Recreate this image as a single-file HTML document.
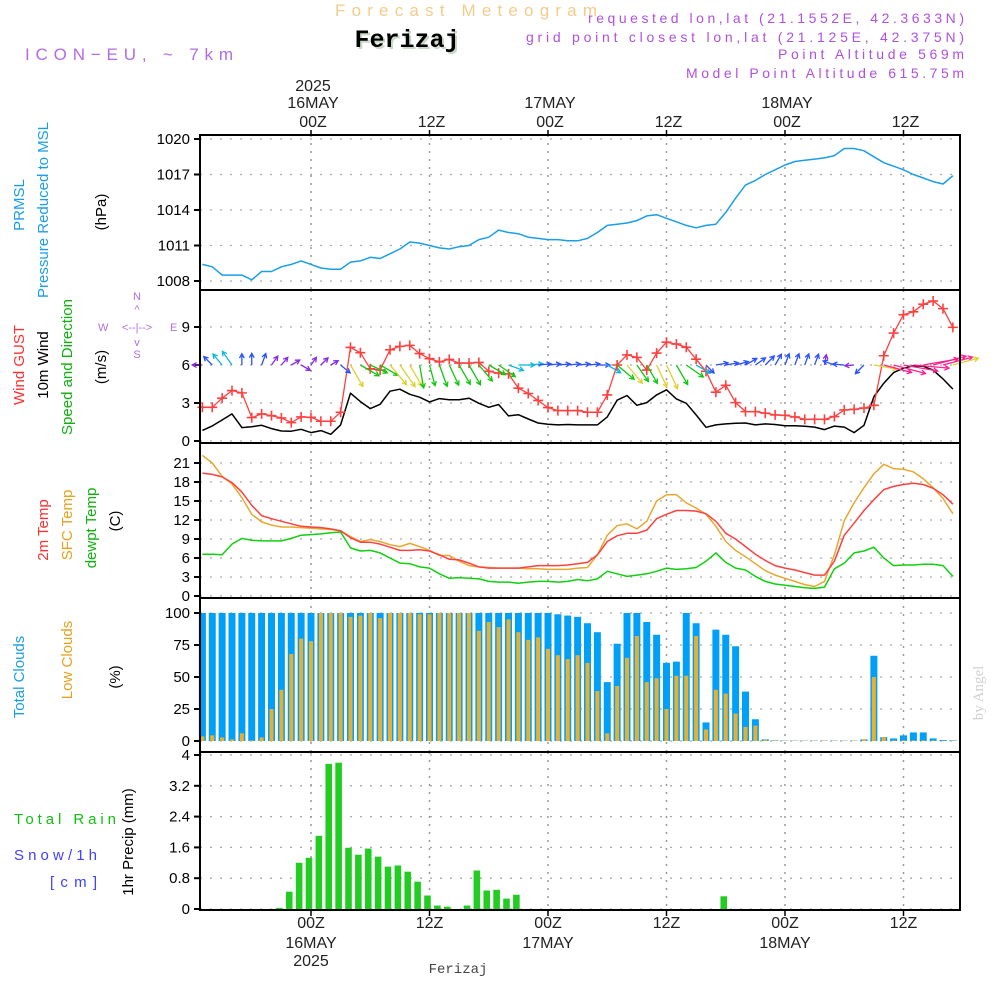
<!DOCTYPE html>
<html><head><meta charset="utf-8"><title>Forecast Meteogram Ferizaj</title>
<style>
html,body{margin:0;padding:0;background:#fff;}
svg{display:block;font-family:"Liberation Sans",sans-serif;}
</style></head>
<body>
<svg id="chart" width="1000" height="1000" viewBox="0 0 1000 1000">
  <text x="466" y="16" text-anchor="middle" font-size="17" fill="#f3cc8c" textLength="262">Forecast Meteogram</text>
  <text x="409" y="49" text-anchor="middle" font-size="25" font-weight="bold" font-family="Liberation Mono, monospace" fill="#c9d8c9">Ferizaj</text>
  <text x="407" y="47" text-anchor="middle" font-size="25" font-weight="bold" font-family="Liberation Mono, monospace" fill="#000">Ferizaj</text>
  <text x="25" y="60" font-size="17" fill="#b36be8" textLength="208">ICON−EU, ~ 7km</text>
  <text x="964" y="23" text-anchor="end" font-size="14" fill="#b050e0" textLength="376">requested lon,lat (21.1552E, 42.3633N)</text>
  <text x="964" y="42" text-anchor="end" font-size="14" fill="#b050e0" textLength="438">grid point closest lon,lat (21.125E, 42.375N)</text>
  <text x="964" y="59" text-anchor="end" font-size="14" fill="#b050e0" textLength="186">Point Altitude 569m</text>
  <text x="964" y="78" text-anchor="end" font-size="14" fill="#b050e0" textLength="278">Model Point Altitude 615.75m</text>

  <text transform="translate(24,205) rotate(-90)" text-anchor="middle" font-size="15" fill="#1a9ee8">PRMSL</text>
  <text transform="translate(48,210) rotate(-90)" text-anchor="middle" font-size="15" fill="#1a9ee8">Pressure Reduced to MSL</text>
  <text transform="translate(106,212) rotate(-90)" text-anchor="middle" font-size="15" fill="#000">(hPa)</text>
  <text transform="translate(24,365) rotate(-90)" text-anchor="middle" font-size="15" fill="#ff3030">Wind GUST</text>
  <text transform="translate(48,365) rotate(-90)" text-anchor="middle" font-size="15" fill="#000">10m Wind</text>
  <text transform="translate(72,367) rotate(-90)" text-anchor="middle" font-size="15" fill="#10b010">Speed and Direction</text>
  <text transform="translate(106,367) rotate(-90)" text-anchor="middle" font-size="15" fill="#000">(m/s)</text>
  <g fill="#b070e0" font-size="11">
    <text x="137" y="300" text-anchor="middle">N</text>
    <text x="137" y="313" text-anchor="middle">^</text>
    <text x="98" y="331">W</text>
    <text x="137" y="331" text-anchor="middle">&lt;--|--&gt;</text>
    <text x="170" y="331">E</text>
    <text x="137" y="346" text-anchor="middle">v</text>
    <text x="137" y="358" text-anchor="middle">S</text>
  </g>
  <text transform="translate(48,530) rotate(-90)" text-anchor="middle" font-size="15" fill="#ff3030">2m Temp</text>
  <text transform="translate(72,525) rotate(-90)" text-anchor="middle" font-size="15" fill="#e8a020">SFC Temp</text>
  <text transform="translate(96,528) rotate(-90)" text-anchor="middle" font-size="15" fill="#10b010">dewpt Temp</text>
  <text transform="translate(120,521) rotate(-90)" text-anchor="middle" font-size="15" fill="#000">(C)</text>
  <text transform="translate(24,677) rotate(-90)" text-anchor="middle" font-size="15" fill="#1a9ee8">Total Clouds</text>
  <text transform="translate(72,660) rotate(-90)" text-anchor="middle" font-size="15" fill="#e8a020">Low Clouds</text>
  <text transform="translate(120,677) rotate(-90)" text-anchor="middle" font-size="15" fill="#000">(%)</text>
  <text x="14" y="824" font-size="15" fill="#10c010" textLength="102">Total  Rain</text>
  <text x="14" y="860" font-size="15" fill="#4040ff" textLength="83">Snow/1h</text>
  <text x="50" y="887" font-size="15" fill="#4040ff" textLength="47">[cm]</text>
  <text transform="translate(133,842) rotate(-90)" text-anchor="middle" font-size="15" fill="#000">1hr Precip (mm)</text>
  <text transform="translate(983,693) rotate(-90)" text-anchor="middle" font-size="15" fill="#d0d0d0" font-family="Liberation Serif, serif">by Angel</text>
  <text x="458" y="973" text-anchor="middle" font-size="14" fill="#444" font-family="Liberation Mono, monospace">Ferizaj</text>
  <g id="plot"></g>
</svg>
<script>
const hours = [];
for (let h = -11; h <= 65; h++) hours.push(h);
const pressure = [1009.4,1009.2,1008.5,1008.5,1008.5,1008.1,1008.8,1008.8,1009.2,1009.4,1009.7,
1009.4,1009.1,1009.0,1009.0,1009.6,1009.7,1010.0,1009.9,1010.3,1010.7,1011.3,
1011.2,1011.0,1010.8,1010.7,1010.9,1011.0,1011.5,1011.7,1012.3,1012.1,1012.0,
1011.7,1011.6,1011.5,1011.5,1011.4,1011.4,1011.6,1012.1,1012.7,1012.8,1012.9,
1013.1,1013.5,1013.6,1013.3,1013.0,1012.7,1012.5,1012.7,1012.8,1013.8,1015.0,
1016.1,1016.5,1017.0,1017.4,1017.8,1018.1,1018.2,1018.3,1018.4,1018.6,1019.2,
1019.2,1019.0,1018.5,1018.0,1017.7,1017.4,1017.0,1016.7,1016.4,1016.2,1016.9];
const gust = [2.66,2.66,3.38,3.98,3.8,1.85,2.14,2.0,1.82,1.45,1.9,
1.87,1.56,1.56,2.27,7.39,6.97,5.7,5.6,7.2,7.47,7.55,
6.9,6.5,6.25,6.44,6.15,6.15,6.2,5.5,5.36,5.3,4.17,
3.75,3.2,2.64,2.4,2.4,2.4,2.27,2.27,3.64,6.0,6.8,
6.6,5.6,6.94,7.8,7.65,7.4,6.46,5.5,3.85,4.4,3.03,
2.32,2.32,2.2,2.06,2.03,1.9,1.71,1.71,1.71,1.93,2.45,
2.5,2.6,2.82,6.73,8.52,9.97,10.2,10.8,11.05,10.45,8.97];
const wind10 = [0.84,1.19,1.66,2.14,1.06,1.13,1.24,0.98,0.79,0.77,0.92,
0.66,0.82,0.53,1.27,3.77,3.11,2.56,2.9,3.93,4.09,3.69,
3.46,3.09,3.35,3.25,3.25,3.38,2.98,2.66,2.88,1.98,2.08,
1.74,1.42,1.32,1.27,1.3,1.27,1.27,1.27,1.9,3.22,3.59,
2.82,3.03,3.64,4.04,3.32,2.98,2.06,1.08,1.27,1.35,1.4,
1.42,1.27,1.35,1.3,1.2,1.2,1.16,1.1,0.9,1.18,1.1,
0.66,1.24,3.5,4.56,5.4,5.75,5.94,5.9,5.6,4.9,4.1];
const windDir = [90,135,140,145,180,180,200,215,220,240,300,
215,225,240,310,330,300,295,300,320,325,330,
350,345,340,335,330,330,320,300,305,290,270,
265,265,265,265,265,265,265,270,300,310,320,
325,330,335,335,330,305,300,315,260,260,255,
240,235,225,210,200,200,200,200,190,110,95,
85,45,280,285,285,280,275,260,255,255,255];
const temp2m = [19.4,19.2,18.8,17.9,16.4,14.3,12.7,12.2,11.8,11.4,11.0,
10.9,10.8,10.6,10.3,9.2,8.5,8.5,8.2,7.7,7.2,7.2,
7.3,7.1,6.5,5.8,5.7,5.2,4.6,4.4,4.4,4.4,4.4,
4.6,4.8,4.8,4.8,4.9,5.1,5.3,6.5,8.6,9.5,9.9,
9.9,10.4,12.2,12.9,13.5,13.5,13.4,13.0,11.8,9.9,9.0,
7.8,6.6,5.6,4.8,4.4,4.1,3.7,3.3,3.3,5.5,9.6,
11.5,13.5,15.2,16.8,17.3,17.6,17.8,17.6,17.0,16.0,14.5];
const tempSfc = [22.2,21.0,18.9,17.7,15.5,12.9,11.7,11.2,10.9,10.9,10.8,
10.7,10.6,10.5,10.3,9.4,8.6,8.9,8.6,8.1,7.8,8.3,
7.8,7.2,6.4,6.4,5.5,4.8,4.6,4.5,4.4,4.4,4.4,
4.3,4.3,4.2,4.2,4.2,4.4,4.5,6.5,9.6,11.1,11.4,
10.6,11.8,15.0,16.0,16.0,14.7,13.9,12.9,11.0,8.6,7.2,
6.2,5.1,4.0,3.3,2.8,2.3,1.8,1.5,2.3,6.5,11.9,
14.7,17.1,19.3,20.8,20.1,20.0,19.6,18.5,17.1,15.4,13.0];
const dewpt = [6.6,6.6,6.5,8.2,9.1,8.8,8.7,8.7,8.7,9.1,9.6,
9.7,9.8,10.0,10.1,7.6,7.1,7.2,6.8,6.0,5.2,5.1,
4.6,4.4,3.5,2.8,2.9,2.8,2.7,2.3,2.2,2.2,2.0,
2.2,2.3,2.3,2.2,2.3,2.6,2.4,2.7,3.9,3.5,3.1,
3.3,3.5,3.9,4.4,4.2,4.3,4.5,5.5,6.8,5.3,4.4,
4.1,3.1,2.3,1.9,1.7,1.5,1.3,1.2,1.4,4.3,5.2,
6.8,7.1,7.7,6.0,4.8,4.9,4.9,5.0,5.0,4.8,3.1];
const totalClouds = [100,100,100,100,100,100,100,100,100,100,100,
100,100,100,100,100,100,100,100,100,100,100,
100,100,100,100,100,100,100,100,100,100,100,
100,100,100,99,98,97,92,85,46,76,100,
100,93,83,61,62,100,92,14.5,87,83,74,
38.6,17,1.3,0.5,0.3,0.3,0.3,0.3,0.3,0.3,0.3,
0.3,1.3,66.6,3,2,4.4,6.7,6.7,2,0.8,0.5];
const lowClouds = [3.6,4.4,2.8,1.3,6,0.5,2.8,25,40,68,80,
78,100,100,100,97,98,100,96,100,100,100,
99,99,100,100,100,100,86,93,89,95,85,
79,81,72,67,64,67,61,39,6,43,65,
82,46,49,25,51,51,82,9,40,37,21.5,
11,12,1,0.5,0.3,0.3,0.3,0.3,0.3,0.3,0.3,
0.3,1.3,50,3,0.5,0.5,0.5,0.5,0.5,0.3,0.3];
const precip = [0,0,0,0,0,0,0,0,0.03,0.45,1.2,
1.33,1.9,3.77,3.8,1.59,1.41,1.57,1.36,1.1,1.13,0.97,
0.71,0.35,0.09,0.06,0,0.09,1.0,0.48,0.5,0.27,0.37,
0,0,0,0,0,0,0,0,0,0,0,
0,0,0,0,0,0,0,0,0,0.33,0,
0,0,0,0,0,0,0,0,0,0,0,
0,0,0,0,0,0,0,0,0,0,0];
const pressureTicks = [1008,1011,1014,1017,1020];
const windTicks = [0,3,6,9];
const tempTicks = [0,3,6,9,12,15,18,21];
const cloudTicks = [0,25,50,75,100];
const precipTicks = [0,0.8,1.6,2.4,3.2,4];
const precipTickLabels = ["0","0.8","1.6","2.4","3.2","4"];
const gridHours = [0,12,24,36,48,60];
const topTimeLabels = ["00Z","12Z","00Z","12Z","00Z","12Z"];
const dayLabels = ["16MAY","17MAY","18MAY"];
const dayHours = [0,24,48];

const NS = "http://www.w3.org/2000/svg";
const plot = document.getElementById("plot");
function el(tag, attrs, parent) {
  const e = document.createElementNS(NS, tag);
  for (const k in attrs) e.setAttribute(k, attrs[k]);
  (parent || plot).appendChild(e);
  return e;
}
const X0 = 311, DX = 9.875, XL = 200, XR = 960;
function xh(h) { return X0 + DX * h; }
function lin(v0, y0, v1, y1) { return v => y0 + (v - v0) * (y1 - y0) / (v1 - v0); }
const yP = lin(1008, 281, 1020, 139);
const yW = lin(0, 441, 9, 327);
const yT = lin(0, 596, 21, 463);
const yC = lin(0, 741, 100, 613);
const yR = lin(0, 909, 4, 755);
const panels = [[135,290],[290,443],[443,598],[598,752],[752,910]];

function hgrid(ticks, yf, labels, name) {
  ticks.forEach((t, i) => {
    const y = yf(t);
    const g = el("line", {x1: XL, x2: XR, y1: y, y2: y, stroke: "#aaa", "stroke-width": 1.3, "stroke-dasharray": "2,8"});
    
    
    const tk = el("line", {x1: XL - 6, x2: XL, y1: y, y2: y, stroke: "#000", "stroke-width": 2});
    
    
    const tx = el("text", {x: XL - 10, y: y + 5, "text-anchor": "end", "font-size": 15, fill: "#000"});
    tx.textContent = labels ? labels[i] : String(t);
    
    
  });
}
hgrid(pressureTicks, yP, null, "pressure");
hgrid(windTicks, yW, null, "wind");
hgrid(tempTicks, yT, null, "temp");
hgrid(cloudTicks, yC, null, "cloud");
hgrid(precipTicks, yR, precipTickLabels, "precip");
gridHours.forEach(h => {
  panels.forEach(p => {
    const v = el("line", {x1: xh(h), x2: xh(h), y1: p[0], y2: p[1], stroke: "#999", "stroke-width": 1.5, "stroke-dasharray": "2,6"});
    
    
  });
});

gridHours.forEach((h, i) => {
  const t = el("text", {x: xh(h) + 2, y: 127, "text-anchor": "middle", "font-size": 16, fill: "#222"});
  t.textContent = topTimeLabels[i];
  
  
  const b = el("text", {x: xh(h), y: 928, "text-anchor": "middle", "font-size": 16, fill: "#222"});
  b.textContent = topTimeLabels[i];
  
  
  const tk = el("line", {x1: xh(h), x2: xh(h), y1: 130, y2: 135, stroke: "#000", "stroke-width": 1.5});
  
  
  const tb = el("line", {x1: xh(h), x2: xh(h), y1: 910, y2: 916, stroke: "#000", "stroke-width": 1.5});
  
  
});
dayHours.forEach((h, i) => {
  const t = el("text", {x: xh(h) + 2, y: 108, "text-anchor": "middle", "font-size": 16, fill: "#222"});
  t.textContent = dayLabels[i];
  
  
  const b = el("text", {x: xh(h), y: 948, "text-anchor": "middle", "font-size": 16, fill: "#222"});
  b.textContent = dayLabels[i];
  
  
});
const yr1 = el("text", {x: xh(0) + 2, y: 91, "text-anchor": "middle", "font-size": 16, fill: "#222"});
yr1.textContent = "2025";


const yr2 = el("text", {x: xh(0), y: 966, "text-anchor": "middle", "font-size": 16, fill: "#222"});
yr2.textContent = "2025";



function series(vals, yf, color, w, name) {
  const d = vals.map((v, i) => (i ? "L" : "M") + xh(hours[i]).toFixed(1) + "," + yf(v).toFixed(1)).join(" ");
  const p = el("path", {d: d, fill: "none", stroke: color, "stroke-width": w, "stroke-linejoin": "round"});
  
  
  return p;
}
series(pressure, yP, "#1a9ee8", 1.5, "pressure-line");
series(wind10, yW, "#000", 1.5, "wind10-line");
series(gust, yW, "#ff4040", 1.3, "gust-line");
gust.forEach((v, i) => {
  const x = xh(hours[i]), y = yW(v);
  const m = el("path", {d: `M${x-5},${y}H${x+5}M${x},${y-5}V${y+5}`, stroke: "#ff4040", "stroke-width": 1.6});
  
  
});
function arrowColor(s) {
  if (s < 1.0) return "#8a2be2";
  if (s < 1.6) return "#2a50ff";
  if (s < 2.3) return "#10b8d8";
  if (s < 3.5) return "#10c810";
  if (s < 4.5) return "#e0d030";
  return "#ff2090";
}
wind10.forEach((s, i) => {
  const to = (windDir[i] + 180) * Math.PI / 180;
  const L = 6 + 5 * s;
  const x0 = xh(hours[i]), y0 = yW(6);
  const x1 = x0 + L * Math.sin(to), y1 = y0 - L * Math.cos(to);
  const a = Math.atan2(y1 - y0, x1 - x0);
  const hl = 5;
  const ax = x1 - hl * Math.cos(a - 0.5), ay = y1 - hl * Math.sin(a - 0.5);
  const bx = x1 - hl * Math.cos(a + 0.5), by = y1 - hl * Math.sin(a + 0.5);
  const p = el("path", {d: `M${x0},${y0}L${x1},${y1}M${ax},${ay}L${x1},${y1}L${bx},${by}`, fill: "none", stroke: arrowColor(s), "stroke-width": 1.3});
  
  
});
series(dewpt, yT, "#10d010", 1.5, "dewpt-line");
series(tempSfc, yT, "#e8a830", 1.5, "sfc-temp-line");
series(temp2m, yT, "#ff4040", 1.5, "temp2m-line");

totalClouds.forEach((v, i) => {
  const x = xh(hours[i]);
  const r = el("rect", {x: x - 3.5, y: yC(v), width: 7, height: yC(0) - yC(v), fill: "#00a0f8"});
  
  
});
lowClouds.forEach((v, i) => {
  const x = xh(hours[i]);
  const r = el("rect", {x: x - 2, y: yC(v), width: 4, height: yC(0) - yC(v), fill: "#e8b030"});
  
  
});
precip.forEach((v, i) => {
  if (v <= 0) return;
  const x = xh(hours[i]) - 2;
  const r = el("rect", {x: x - 3.3, y: yR(v), width: 6.6, height: yR(0) - yR(v), fill: "#22cc22"});
  
  
});

panels.forEach((p, i) => {
  const r = el("rect", {x: XL, y: p[0], width: XR - XL, height: p[1] - p[0], fill: "none", stroke: "#000", "stroke-width": 2});
  
  
});
</script>
</body></html>
